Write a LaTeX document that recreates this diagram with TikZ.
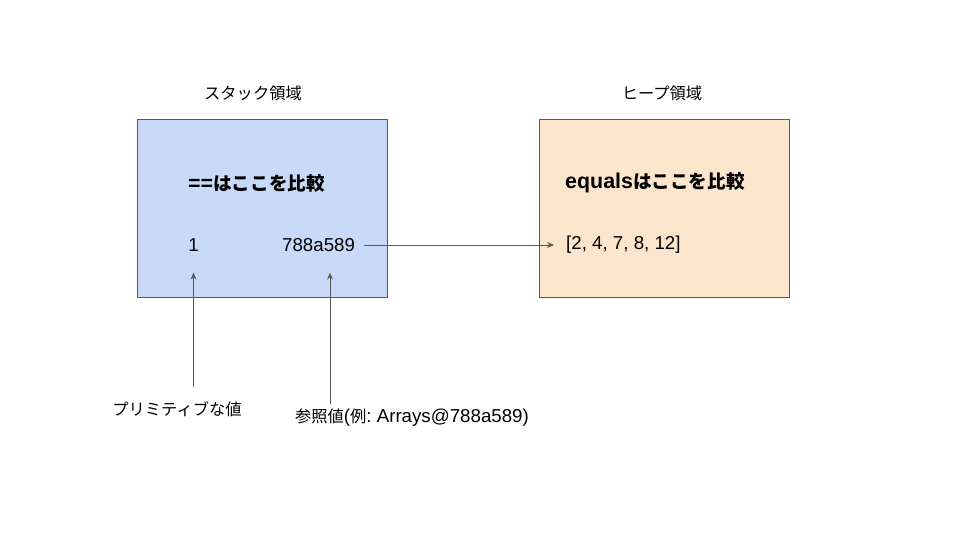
\documentclass[tikz,border=0pt]{standalone}
\usepackage{fontspec}
\setmainfont{Liberation Sans}
\newfontfamily\jp[Scale=0.87]{Noto Sans CJK JP}
\frenchspacing
\usetikzlibrary{arrows.meta}
\definecolor{stackfill}{HTML}{C9DAF8}
\definecolor{heapfill}{HTML}{FCE5CD}
\definecolor{edge}{HTML}{595959}
\tikzset{
  area/.style={draw=edge, line width=1pt, minimum width=250pt, minimum height=177pt, inner sep=0pt},
  txt/.style={inner sep=0pt, font=\fontsize{18.7}{22}\selectfont},
  big/.style={inner sep=0pt, font=\fontsize{21.4}{26}\selectfont\bfseries},
  ptr/.style={draw=edge, line width=1pt, -{Stealth[length=7pt,width=6pt]}}
}
\begin{document}
\begin{tikzpicture}[x=1pt,y=-1pt]
  \useasboundingbox (0,0) rectangle (960,540);
  \node[area, fill=stackfill] (Stack) at (262,208.5) {};
  \node[area, fill=heapfill] (Heap) at (664.5,208.5) {};
  \node[txt] (StackTitle) at (253,93) {\jp スタック領域};
  \node[txt] (HeapTitle) at (662,93) {\jp ヒープ領域};
  \node[big, anchor=west] (StackCmp) at (188,183) {=={\jp はここを比較}};
  \node[big, anchor=west] (HeapCmp) at (565,183) {equals{\jp はここを比較}};
  \node[txt] (One) at (193.5,245) {1};
  \node[txt, anchor=west] (Ref) at (282,245) {788a589};
  \node[txt, anchor=west] (List) at (566,245) {[2, 4, 7, 8, 12]};
  \node[txt] (Prim) at (177,409) {\jp プリミティブな値};
  \node[txt] (RefVal) at (412,418) {{\jp 参照値}({\jp 例}: Arrays@788a589)};

  \draw[ptr, shorten <=9pt, shorten >=12pt] (Ref.east) -- (List.west);
  \draw[ptr, shorten <=14pt] (Prim.north -| One.south) -- ([yshift=-21pt]One.south);
  \draw[ptr, shorten <=5pt] (RefVal.north -| 330,0) -- ([yshift=-21pt]One.south -| 330,0);
\end{tikzpicture}
\end{document}
